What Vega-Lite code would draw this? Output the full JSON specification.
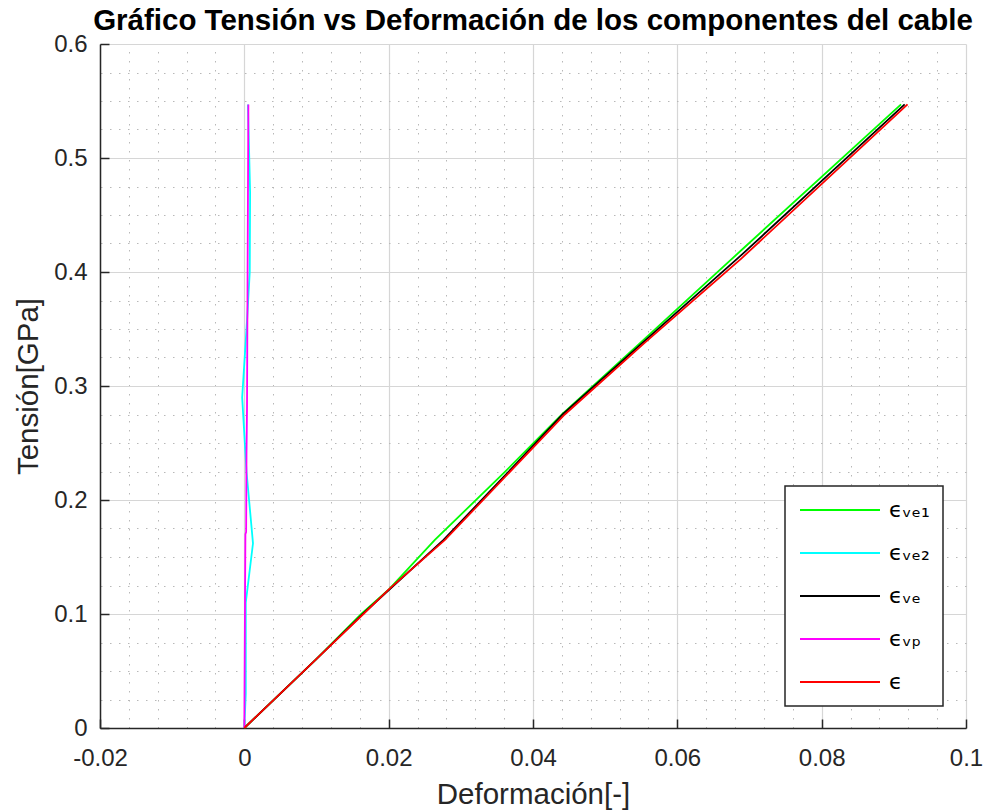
{
  "$schema": "https://vega.github.io/schema/vega-lite/v6.json",
  "width": 866,
  "height": 684,
  "autosize": {"type": "none"},
  "padding": {"left": 100, "top": 44, "right": 19, "bottom": 83},
  "background": "white",
  "title": {
    "text": "Gráfico Tensión vs Deformación de los componentes del cable",
    "font": "Liberation Sans",
    "fontSize": 29.5,
    "fontWeight": "bold",
    "color": "#000000",
    "anchor": "middle",
    "baseline": "alphabetic",
    "offset": -27
  },
  "data": {
    "values": [
      {"serie": "ϵᵥₑ₁", "def": 0, "ten": 0},
      {"serie": "ϵᵥₑ₁", "def": 0.0099, "ten": 0.06},
      {"serie": "ϵᵥₑ₁", "def": 0.0162, "ten": 0.1},
      {"serie": "ϵᵥₑ₁", "def": 0.0201, "ten": 0.122},
      {"serie": "ϵᵥₑ₁", "def": 0.0264, "ten": 0.165},
      {"serie": "ϵᵥₑ₁", "def": 0.036, "ten": 0.224},
      {"serie": "ϵᵥₑ₁", "def": 0.044, "ten": 0.275},
      {"serie": "ϵᵥₑ₁", "def": 0.0549, "ten": 0.338},
      {"serie": "ϵᵥₑ₁", "def": 0.0689, "ten": 0.4193},
      {"serie": "ϵᵥₑ₁", "def": 0.091, "ten": 0.547},

      {"serie": "ϵᵥₑ₂", "def": 0, "ten": 0},
      {"serie": "ϵᵥₑ₂", "def": 0.0002, "ten": 0.03},
      {"serie": "ϵᵥₑ₂", "def": 0.0002, "ten": 0.11},
      {"serie": "ϵᵥₑ₂", "def": 0.0012, "ten": 0.162},
      {"serie": "ϵᵥₑ₂", "def": 0.0003, "ten": 0.225},
      {"serie": "ϵᵥₑ₂", "def": -0.0003, "ten": 0.29},
      {"serie": "ϵᵥₑ₂", "def": 0.0004, "ten": 0.36},
      {"serie": "ϵᵥₑ₂", "def": 0.00075, "ten": 0.4},
      {"serie": "ϵᵥₑ₂", "def": 0.0008, "ten": 0.47},
      {"serie": "ϵᵥₑ₂", "def": 0.0005, "ten": 0.547},

      {"serie": "ϵᵥₑ", "def": 0, "ten": 0},
      {"serie": "ϵᵥₑ", "def": 0.0099, "ten": 0.06},
      {"serie": "ϵᵥₑ", "def": 0.0164, "ten": 0.1},
      {"serie": "ϵᵥₑ", "def": 0.0276, "ten": 0.165},
      {"serie": "ϵᵥₑ", "def": 0.0359, "ten": 0.22},
      {"serie": "ϵᵥₑ", "def": 0.0441, "ten": 0.275},
      {"serie": "ϵᵥₑ", "def": 0.0552, "ten": 0.338},
      {"serie": "ϵᵥₑ", "def": 0.0689, "ten": 0.415},
      {"serie": "ϵᵥₑ", "def": 0.0915, "ten": 0.547},

      {"serie": "ϵᵥₚ", "def": 0, "ten": 0},
      {"serie": "ϵᵥₚ", "def": 0.00005, "ten": 0.06},
      {"serie": "ϵᵥₚ", "def": 0.0001, "ten": 0.12},
      {"serie": "ϵᵥₚ", "def": 0.00015, "ten": 0.17},
      {"serie": "ϵᵥₚ", "def": 0.00025, "ten": 0.172},
      {"serie": "ϵᵥₚ", "def": 0.0003, "ten": 0.24},
      {"serie": "ϵᵥₚ", "def": 0.00037, "ten": 0.28},
      {"serie": "ϵᵥₚ", "def": 0.00045, "ten": 0.4},
      {"serie": "ϵᵥₚ", "def": 0.00056, "ten": 0.547},

      {"serie": "ϵ", "def": 0, "ten": 0},
      {"serie": "ϵ", "def": 0.0099, "ten": 0.06},
      {"serie": "ϵ", "def": 0.0165, "ten": 0.1},
      {"serie": "ϵ", "def": 0.0201, "ten": 0.122},
      {"serie": "ϵ", "def": 0.0278, "ten": 0.165},
      {"serie": "ϵ", "def": 0.0361, "ten": 0.22},
      {"serie": "ϵ", "def": 0.0444, "ten": 0.275},
      {"serie": "ϵ", "def": 0.0555, "ten": 0.338},
      {"serie": "ϵ", "def": 0.0689, "ten": 0.412},
      {"serie": "ϵ", "def": 0.0919, "ten": 0.547}
    ]
  },
  "layer": [
    {
      "mark": {"type": "line", "opacity": 0},
      "encoding": {
        "x": {
          "field": "def", "type": "quantitative",
          "scale": {"domain": [-0.02, 0.1], "nice": false, "zero": false},
          "axis": {
            "orient": "top",
            "title": null, "labels": false, "ticks": false, "domain": false,
            "values": [-0.016,-0.012,-0.008,-0.004,0.004,0.008,0.012,0.016,0.024,0.028,0.032,0.036,0.044,0.048,0.052,0.056,0.064,0.068,0.072,0.076,0.084,0.088,0.092,0.096],
            "grid": true, "gridColor": "#b8b8b8", "gridDash": [1.5, 7.5], "gridWidth": 1
          }
        },
        "y": {
          "field": "ten", "type": "quantitative",
          "scale": {"domain": [0, 0.6], "nice": false},
          "axis": {
            "orient": "right",
            "title": null, "labels": false, "ticks": false, "domain": false,
            "values": [0.025,0.05,0.075,0.125,0.15,0.175,0.225,0.25,0.275,0.325,0.35,0.375,0.425,0.45,0.475,0.525,0.55,0.575],
            "grid": true, "gridColor": "#b8b8b8", "gridDash": [1.5, 7.5], "gridWidth": 1
          }
        },
        "detail": {"field": "serie"},
        "order": {"field": "ten"}
      }
    },
    {
      "mark": {"type": "line", "strokeWidth": 1.8, "interpolate": "linear"},
      "encoding": {
        "x": {
          "field": "def", "type": "quantitative",
          "scale": {"domain": [-0.02, 0.1], "nice": false, "zero": false},
          "axis": {
            "orient": "bottom",
            "title": "Deformación[-]",
            "values": [-0.02, 0, 0.02, 0.04, 0.06, 0.08, 0.1],
            "labelExpr": "'' + datum.value",
            "grid": true, "gridColor": "#d6d6d6", "gridWidth": 1.2,
            "domain": true, "domainColor": "#262626", "domainWidth": 1.5,
            "ticks": true, "tickColor": "#262626", "tickSize": -9, "tickWidth": 1.5,
            "labelFont": "Liberation Sans", "labelFontSize": 24, "labelColor": "#262626",
            "labelPadding": 27, "labelFlush": false, "labelOverlap": false,
            "titleFont": "Liberation Sans", "titleFontSize": 29.5, "titleFontWeight": "normal", "titleColor": "#262626",
            "titlePadding": 10
          }
        },
        "y": {
          "field": "ten", "type": "quantitative",
          "scale": {"domain": [0, 0.6], "nice": false},
          "axis": {
            "orient": "left",
            "title": "Tensión[GPa]",
            "values": [0, 0.1, 0.2, 0.3, 0.4, 0.5, 0.6],
            "labelExpr": "'' + datum.value",
            "grid": true, "gridColor": "#d6d6d6", "gridWidth": 1.2,
            "domain": true, "domainColor": "#262626", "domainWidth": 1.5,
            "ticks": true, "tickColor": "#262626", "tickSize": -9, "tickWidth": 1.5,
            "labelFont": "Liberation Sans", "labelFontSize": 24, "labelColor": "#262626",
            "labelPadding": 22, "labelFlush": false, "labelOverlap": false,
            "titleFont": "Liberation Sans", "titleFontSize": 29.5, "titleFontWeight": "normal", "titleColor": "#262626",
            "titlePadding": 10
          }
        },
        "color": {
          "field": "serie", "type": "nominal",
          "scale": {
            "domain": ["ϵᵥₑ₁", "ϵᵥₑ₂", "ϵᵥₑ", "ϵᵥₚ", "ϵ"],
            "range": ["#00ff00", "#00ffff", "#000000", "#ff00ff", "#ff0000"]
          },
          "legend": {
            "title": null,
            "orient": "none",
            "legendX": 685,
            "legendY": 442,
            "symbolType": "M-8,0H8",
            "symbolSize": 100,
            "symbolStrokeWidth": 1.8,
            "symbolOffset": 31,
            "labelFont": "DejaVu Sans",
            "labelFontSize": 22,
            "labelColor": "#000000",
            "labelOffset": 38,
            "strokeColor": "#262626",
            "fillColor": "#ffffff",
            "padding": 13,
            "rowPadding": 21
          }
        },
        "order": {"field": "ten"}
      }
    }
  ],
  "resolve": {"axis": {"x": "independent", "y": "independent"}},
  "config": {
    "view": {"stroke": null},
    "legend": {"strokeWidth": 1.5}
  }
}
